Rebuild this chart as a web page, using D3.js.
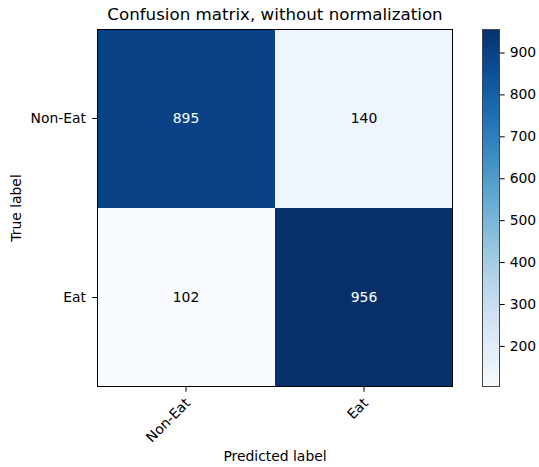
<!DOCTYPE html>
<html>
<head>
<meta charset="utf-8">
<script src="https://cdn.jsdelivr.net/npm/d3@7"></script>
<style>
  body { margin: 0; background: #fff; }
  text { font-family: "DejaVu Sans", sans-serif; fill: #000; }
</style>
</head>
<body>
<div id="chart"></div>
<script>
var classes = ["Non-Eat", "Eat"];
var matrix = [[895, 140], [102, 956]];
var cbTicks = [200, 300, 400, 500, 600, 700, 800, 900];

var svgWidth = 539, svgHeight = 467;
var plot = { left: 97, top: 29, width: 356, height: 358 };
var cb = { left: 482, width: 18 };
var fs = "13.9px";

var svg = d3.select("#chart").append("svg")
    .attr("width", svgWidth)
    .attr("height", svgHeight);

var cells = [];
matrix.forEach(function(row, i) {
    row.forEach(function(v, j) {
        cells.push({ row: classes[i], col: classes[j], value: v });
    });
});

var vmin = d3.min(cells, d => d.value);
var vmax = d3.max(cells, d => d.value);
var color = d3.scaleSequential(d3.interpolateBlues).domain([vmin, vmax]);

var x = d3.scaleBand().domain(classes).range([plot.left, plot.left + plot.width]);
var y = d3.scaleBand().domain(classes).range([plot.top, plot.top + plot.height]);

// Cells
svg.selectAll("rect.cell")
    .data(cells)
    .enter()
    .append("rect")
    .attr("class", "cell")
    .attr("x", d => x(d.col))
    .attr("y", d => y(d.row))
    .attr("width", x.bandwidth())
    .attr("height", y.bandwidth())
    .attr("fill", d => color(d.value));

var thresh = vmax / 2;
svg.selectAll("text.val")
    .data(cells)
    .enter()
    .append("text")
    .attr("class", "val")
    .attr("x", d => x(d.col) + x.bandwidth() / 2)
    .attr("y", d => y(d.row) + y.bandwidth() / 2)
    .attr("dy", "0.35em")
    .attr("text-anchor", "middle")
    .attr("font-size", fs)
    .style("fill", d => d.value > thresh ? "#fff" : "#000")
    .text(d => d.value);

// Frame
svg.append("rect")
    .attr("x", plot.left + 0.5)
    .attr("y", plot.top + 0.5)
    .attr("width", plot.width - 1)
    .attr("height", plot.height - 1)
    .attr("fill", "none")
    .attr("stroke", "#000")
    .attr("stroke-width", 1);

// Axes ticks
var yAxis = svg.append("g");
classes.forEach(function(c) {
    var cy = y(c) + y.bandwidth() / 2;
    yAxis.append("line")
        .attr("x1", plot.left - 4.7).attr("x2", plot.left)
        .attr("y1", cy).attr("y2", cy)
        .attr("stroke", "#000");
    yAxis.append("text")
        .attr("x", plot.left - 11)
        .attr("y", cy)
        .attr("dy", "0.35em")
        .attr("text-anchor", "end")
        .attr("font-size", fs)
        .text(c);
});

var xAxis = svg.append("g");
classes.forEach(function(c) {
    var cx = x(c) + x.bandwidth() / 2;
    var by = plot.top + plot.height;
    xAxis.append("line")
        .attr("x1", cx).attr("x2", cx)
        .attr("y1", by).attr("y2", by + 4.7)
        .attr("stroke", "#000");
    xAxis.append("text")
        .attr("transform", `translate(${cx + 5}, ${by + 17}) rotate(-45)`)
        .attr("text-anchor", "end")
        .attr("font-size", fs)
        .text(c);
});

// Labels
svg.append("text")
    .attr("x", plot.left + plot.width / 2)
    .attr("y", 20)
    .attr("text-anchor", "middle")
    .attr("font-size", "16.7px")
    .text("Confusion matrix, without normalization");

svg.append("text")
    .attr("x", plot.left + plot.width / 2)
    .attr("y", 461)
    .attr("text-anchor", "middle")
    .attr("font-size", fs)
    .text("Predicted label");

svg.append("text")
    .attr("transform", `translate(21, ${plot.top + plot.height / 2}) rotate(-90)`)
    .attr("text-anchor", "middle")
    .attr("font-size", fs)
    .text("True label");

// Colorbar
var cbScale = d3.scaleLinear().domain([vmin, vmax]).range([plot.top + plot.height, plot.top]);
var defs = svg.append("defs");
var grad = defs.append("linearGradient")
    .attr("id", "cbgrad")
    .attr("x1", 0).attr("y1", 1).attr("x2", 0).attr("y2", 0);
d3.range(0, 1.0001, 0.05).forEach(function(t) {
    grad.append("stop")
        .attr("offset", t)
        .attr("stop-color", d3.interpolateBlues(t));
});
svg.append("rect")
    .attr("x", cb.left)
    .attr("y", plot.top)
    .attr("width", cb.width)
    .attr("height", plot.height)
    .attr("fill", "url(#cbgrad)");
svg.append("rect")
    .attr("x", cb.left + 0.5)
    .attr("y", plot.top + 0.5)
    .attr("width", cb.width - 1)
    .attr("height", plot.height - 1)
    .attr("fill", "none")
    .attr("stroke", "#444");

var cbAxis = d3.axisRight(cbScale).tickValues(cbTicks).tickSize(4.7).tickPadding(5);
svg.append("g")
    .attr("transform", `translate(${cb.left + cb.width}, 0)`)
    .call(cbAxis)
    .call(g => g.select(".domain").remove())
    .call(g => g.selectAll("text").attr("font-size", fs).attr("font-family", "DejaVu Sans, sans-serif").style("fill", "#000"));
</script>
</body>
</html>
